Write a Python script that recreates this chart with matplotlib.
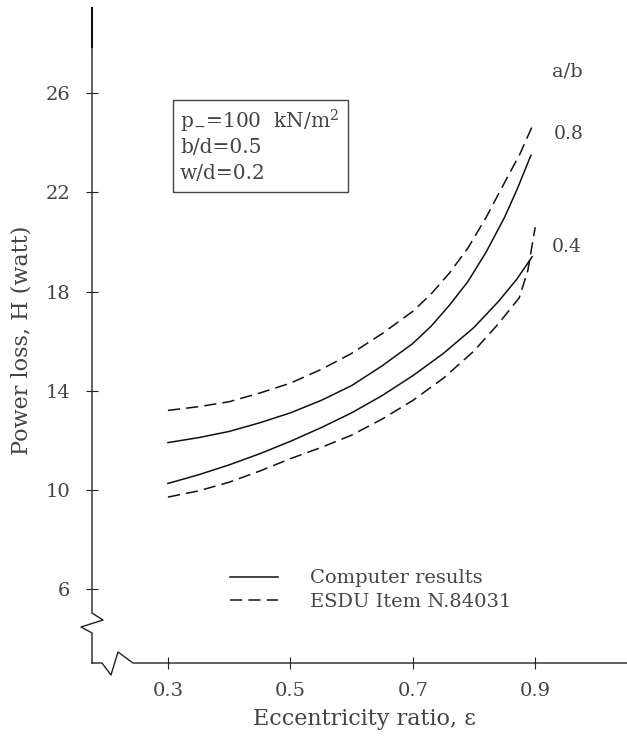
import matplotlib
matplotlib.use("Agg")
import matplotlib.pyplot as plt
from matplotlib.patches import Rectangle

# --- valores ---
ecc_08_comp = [0.30, 0.35, 0.40, 0.45, 0.50, 0.55, 0.60, 0.65, 0.70, 0.73, 0.76, 0.79, 0.82, 0.85, 0.87, 0.893]
H_08_comp = [11.9, 12.1, 12.35, 12.7, 13.1, 13.6, 14.2, 15.0, 15.9, 16.6, 17.45, 18.4, 19.6, 21.0, 22.1, 23.5]

ecc_08_esdu = [0.30, 0.35, 0.40, 0.45, 0.50, 0.55, 0.60, 0.65, 0.70, 0.73, 0.76, 0.79, 0.82, 0.85, 0.875, 0.895]
H_08_esdu = [13.2, 13.35, 13.55, 13.9, 14.3, 14.85, 15.5, 16.3, 17.2, 17.9, 18.75, 19.75, 21.0, 22.4, 23.55, 24.66]

ecc_04_comp = [0.30, 0.35, 0.40, 0.45, 0.50, 0.55, 0.60, 0.65, 0.70, 0.75, 0.80, 0.84, 0.87, 0.895]
H_04_comp = [10.25, 10.6, 11.0, 11.45, 11.95, 12.5, 13.1, 13.8, 14.6, 15.5, 16.55, 17.6, 18.5, 19.4]

ecc_04_esdu = [0.30, 0.35, 0.40, 0.45, 0.50, 0.55, 0.60, 0.65, 0.70, 0.75, 0.80, 0.84, 0.874, 0.888, 0.90]
H_04_esdu = [9.7, 9.95, 10.3, 10.75, 11.25, 11.7, 12.2, 12.85, 13.6, 14.5, 15.6, 16.7, 17.75, 18.85, 20.6]

x_ticks = [0.3, 0.5, 0.7, 0.9]
x_ticklabels = ["0.3", "0.5", "0.7", "0.9"]
y_ticks = [6, 10, 14, 18, 22, 26]
y_ticklabels = ["6", "10", "14", "18", "22", "26"]

box_lines = ["p$_{-}$=100  kN/m$^{2}$", "b/d=0.5", "w/d=0.2"]
ratio_labels = ["0.8", "0.4"]
ratio_pos = [(0.955, 24.37), (0.952, 19.78)]

plt.rcParams["font.family"] = ["DejaVu Serif"]
plt.rcParams["mathtext.fontset"] = "dejavuserif"
txt_color = "#444444"
ln_color = "#111111"

fig = plt.figure(figsize=(6.27, 7.36), dpi=100)
ax = fig.add_axes([92 / 627, 73 / 736, 535 / 627, 655 / 736])
ax.set_xlim(0.176, 1.05)
ax.set_ylim(3.0, 29.45)

dash = (0, (8, 4))
ax.plot(ecc_08_comp, H_08_comp, color=ln_color, lw=1.1, label="Computer results")
ax.plot(ecc_08_esdu, H_08_esdu, color=ln_color, lw=1.1, ls=dash, label="ESDU Item N.84031")
ax.plot(ecc_04_comp, H_04_comp, color=ln_color, lw=1.1)
ax.plot(ecc_04_esdu, H_04_esdu, color=ln_color, lw=1.1, ls=dash)

# eixos com quebra (zigue-zague)
for s in ax.spines.values():
    s.set_visible(False)
ax.plot([0, 0, 0.0206, -0.0206, 0, 0], [1, 0.0763, 0.0656, 0.055, 0.0458, 0],
        transform=ax.transAxes, color="#222222", lw=1.0, clip_on=False)
ax.plot([0, 0], [1, 0.94], transform=ax.transAxes, color="#111111", lw=1.5, clip_on=False)
ax.plot([0, 0.0187, 0.0355, 0.0486, 0.0766, 1.0], [0, 0, -0.0183, 0.0168, 0, 0],
        transform=ax.transAxes, color="#222222", lw=1.0, clip_on=False)

ax.set_xticks(x_ticks)
ax.set_xticklabels(x_ticklabels)
ax.set_yticks(y_ticks)
ax.set_yticklabels(y_ticklabels)
ax.tick_params(direction="inout", length=9, width=0.8, color="#222222",
               labelsize=14, labelcolor=txt_color)
ax.tick_params(axis="y", pad=11)
ax.tick_params(axis="x", pad=9)

ax.set_xlabel("Eccentricity ratio, ε", fontsize=16, color=txt_color)
ax.xaxis.set_label_coords(0.51, -0.068)
ax.set_ylabel("Power loss, H (watt)", fontsize=16, color=txt_color)
ax.yaxis.set_label_coords(-0.112, 0.493)

# caixa com parâmetros
ax.add_patch(Rectangle((0.1514, 0.719), 0.327, 0.1405, transform=ax.transAxes,
                       fc="white", ec="#444444", lw=1.0))
for yy, line in zip([0.8275, 0.7863, 0.7466], box_lines):
    ax.text(0.1645, yy, line, transform=ax.transAxes, fontsize=14.5,
            color=txt_color, va="center", ha="left")

ax.text(0.952, 26.9, "a/b", fontsize=14, color=txt_color, ha="center", va="center")
for lab, (xx, yy) in zip(ratio_labels, ratio_pos):
    ax.text(xx, yy, lab, fontsize=13.5, color=txt_color, ha="center", va="center")

ax.legend(loc="upper left", bbox_to_anchor=(0.258, 0.143), frameon=False,
          fontsize=14, handlelength=2.47, handletextpad=1.65, labelspacing=0.3,
          borderpad=0, borderaxespad=0, labelcolor=txt_color)

fig.savefig("out.png", dpi=100, facecolor="white")
